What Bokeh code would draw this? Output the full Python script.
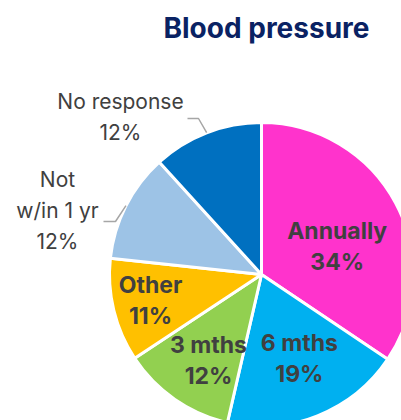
import math
from bokeh.plotting import figure
from bokeh.models import Range1d, ColumnDataSource
from bokeh.core.properties import value
from bokeh.embed import file_html
from bokeh.resources import INLINE

# ---- data (slice shares; labels show rounded %) ----
title_text = "Blood pressure"
categories = ["Annually", "6 mths", "3 mths", "Other", "Not w/in 1 yr", "No response"]
percent_values = [34.4, 19.2, 12.1, 11.0, 11.55, 11.75]
slice_colors = ["#FF33CC", "#00B0F0", "#92D050", "#FFC000", "#9DC3E6", "#0070C0"]

# ---- layout (pixel space, page coords) ----
W, H = 401, 420
TEXT_DY = 8  # compensation for the renderer's baseline placement
def X(sx):
    return sx
def Y(sy):
    return H - sy
def TY(sy):
    return H - sy + TEXT_DY

CX, CY, R = X(261), Y(274), 152
FONT = "Inter"
TEXT_COLOR = "#404040"
LINE_GAP = 31

# inside labels: angle shift from slice mid (deg), distance from centre (px)
inside_layout = {
    "Annually": (7.2, 81),
    "6 mths": (-2.7, 92),
    "3 mths": (-3.1, 101),
    "Other": (0.5, 114),
}
# outside labels: centre x, first baseline y, wrapped lines, leader elbow & end (page px)
outside_layout = {
    "No response": dict(cx=120, by=109, lines=["No response"], elbow=(198, 118), end=(187, 118)),
    "Not w/in 1 yr": dict(cx=57, by=187, lines=["Not", "w/in 1 yr"], elbow=(115, 221), end=(103, 221)),
}

p = figure(width=W, height=H, x_range=Range1d(0, W), y_range=Range1d(0, H),
           output_backend="svg", toolbar_location=None, min_border=0)
p.axis.visible = False
p.grid.visible = False
p.outline_line_color = None
p.background_fill_color = "white"
p.border_fill_color = "white"

total = float(sum(percent_values))
cum = 0.0
starts, ends, mids = [], [], []
for v in percent_values:
    t1 = cum / total * 360.0
    cum += v
    t2 = cum / total * 360.0
    starts.append(math.radians(90 - t2))
    ends.append(math.radians(90 - t1))
    mids.append((t1 + t2) / 2.0)

src = ColumnDataSource(dict(x=[CX] * len(categories), y=[CY] * len(categories),
                            start=starts, end=ends, color=slice_colors))
p.wedge(x="x", y="y", radius=R, start_angle="start", end_angle="end",
        fill_color="color", line_color="white", line_width=3, source=src)

def polar(theta_deg, dist):
    t = math.radians(theta_deg)
    return CX + dist * math.sin(t), CY + dist * math.cos(t)

# inside labels
in_x, in_y, in_t = [], [], []
for cat, v, m in zip(categories, percent_values, mids):
    if cat in inside_layout:
        shift, dist = inside_layout[cat]
        ax, ay = polar(m + shift, dist)
        in_x += [ax, ax]
        in_y += [ay + 7 + TEXT_DY, ay - 24 + TEXT_DY]
        in_t += [cat, f"{round(v)}%"]
p.text(x=in_x, y=in_y, text=in_t, text_font=value(FONT), text_font_size="23px",
       text_font_style="bold", text_color=TEXT_COLOR, text_align="center",
       text_baseline="alphabetic")

# outside labels + leader lines
out_x, out_y, out_t = [], [], []
lx, ly = [], []
for cat, v, m in zip(categories, percent_values, mids):
    if cat in outside_layout:
        L = outside_layout[cat]
        lines = L["lines"] + [f"{round(v)}%"]
        for i, t in enumerate(lines):
            out_x.append(X(L["cx"]))
            out_y.append(TY(L["by"] + i * LINE_GAP))
            out_t.append(t)
        sx, sy = polar(m, R)
        ex, ey = L["elbow"]
        nx, ny = L["end"]
        lx.append([sx, X(ex), X(nx)])
        ly.append([sy, Y(ey), Y(ny)])
p.text(x=out_x, y=out_y, text=out_t, text_font=value(FONT), text_font_size="21px",
       text_color=TEXT_COLOR, text_align="center", text_baseline="alphabetic")
p.multi_line(xs=lx, ys=ly, line_color="#A6A6A6", line_width=1.5)

# title
p.text(x=[X(266)], y=[TY(35)], text=[title_text], text_font=value(FONT),
       text_font_size="28px", text_font_style="bold", text_color="#0A2263",
       text_align="center", text_baseline="alphabetic")

open("out.html", "w").write(file_html(p, INLINE))
